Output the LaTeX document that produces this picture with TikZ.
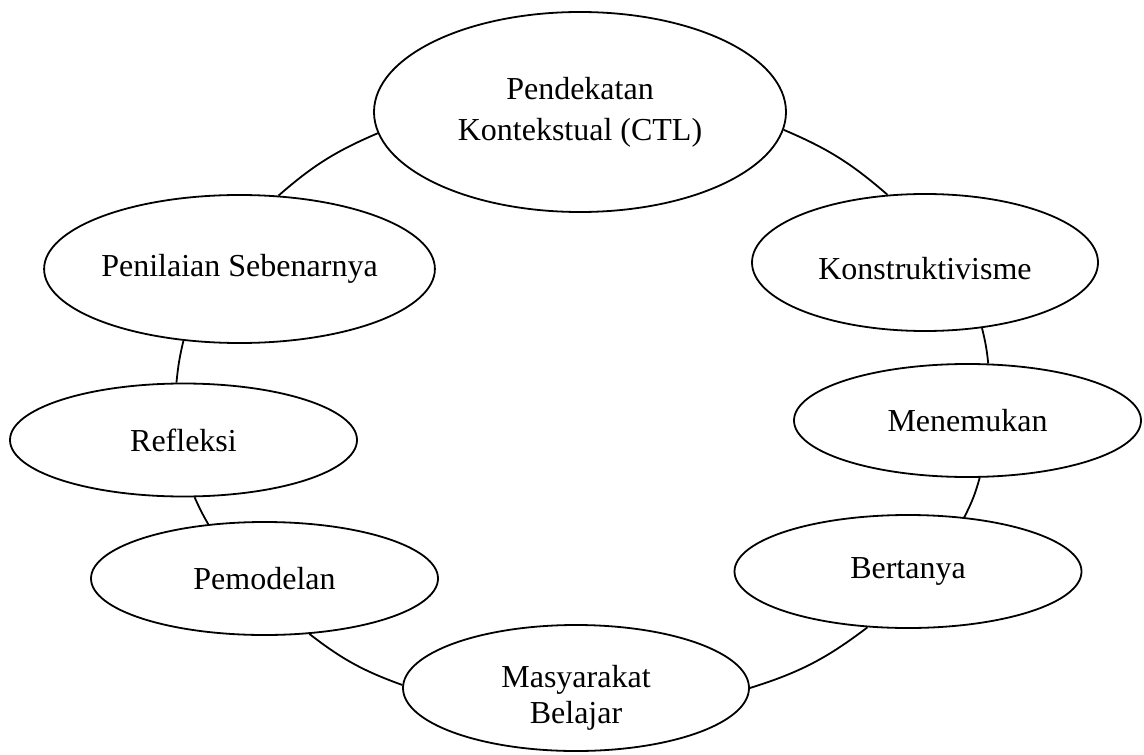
\documentclass[tikz,border=0pt]{standalone}
\usepackage{fontspec}
\setmainfont{Liberation Serif}
\usetikzlibrary{shapes.geometric}
\tikzset{%
  % Specifications for style of nodes:
           stage/.style = {ellipse, draw=black, line width=0.9pt, fill=white,
                           inner sep=0pt, minimum width=173.5pt, minimum height=56.5pt,
                           align=center, font=\fontsize{16}{20.5}\selectfont},
            core/.style = {stage, minimum width=206pt, minimum height=100pt},
  % Specifications for style of connectors:
            ring/.style = {draw=black, line width=0.9pt},
}

\begin{document}
\begin{tikzpicture}[x=0.5pt, y=-0.5pt]
  \useasboundingbox (0,0) rectangle (1144,754);

  \node (ctl)  [core]                                  at (580,112)     {Pendekatan\\ Kontekstual (CTL)};
  \node (kon)  [stage, minimum width=173pt, minimum height=68.5pt,
                text height=17pt]                      at (925,262.5)   {Konstruktivisme};
  \node (men)  [stage]                                 at (967.5,420.5) {Menemukan};
  \node (ber)  [stage]                                 at (908,571.5)   {Bertanya};
  \node (mas)  [stage, minimum width=173pt, minimum height=63pt, text height=39pt,
                font=\fontsize{16}{18}\selectfont]     at (576,688)     {Masyarakat\\ Belajar};
  \node (pem)  [stage]                                 at (264.5,578.5) {Pemodelan};
  \node (ref)  [stage]                                 at (183.5,440)   {Refleksi};
  \node (pen)  [stage, minimum width=191.5pt, minimum height=74pt] at (239.5,269) {Penilaian Sebenarnya};

  \draw[ring] (ctl.-5)   to[bend left=9]   (kon.119);
  \draw[ring] (kon.311)  to[bend left=4]   (men.70);
  \draw[ring] (men.282)  to[bend left=6]   (ber.44);
  \draw[ring] (ber.234)  to[bend left=10]  (mas.0);
  \draw[ring] (mas.179)  to[bend left=9]   (pem.309);
  \draw[ring] (pem.136)  to[bend left=3]   (ref.281);
  \draw[ring] (ref.97)   to[bend left=4]   (pen.232);
  \draw[ring] (pen.62)   to[bend left=9]   (ctl.186);

\end{tikzpicture}
\end{document}
